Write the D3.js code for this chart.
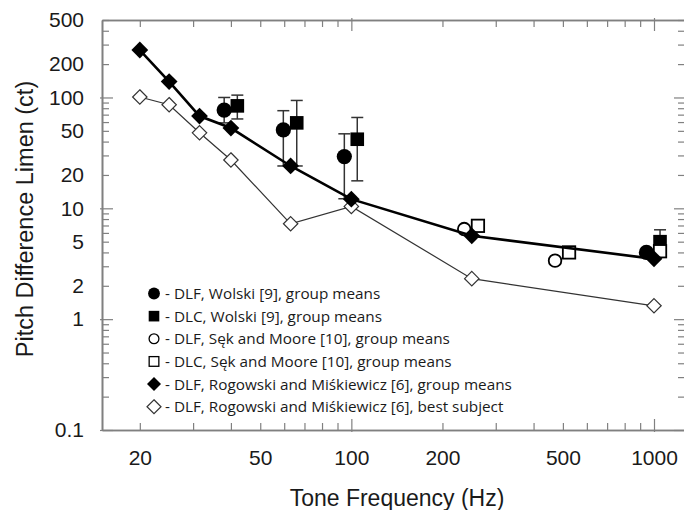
<!DOCTYPE html>
<html>
<head>
<meta charset="utf-8">
<script src="https://cdnjs.cloudflare.com/ajax/libs/d3/7.8.5/d3.min.js"></script>
<style>
  body { margin: 0; background: #ffffff; }
  .axis path, .axis line { stroke: #808080; }
  .axis path { stroke-width: 1.6px; }
  .axis line { stroke-width: 1.2px; }
  .axis text { font-family: "Liberation Sans", Arial, sans-serif; fill: #1a1a1a; }
</style>
</head>
<body>
<div id="chart"></div>
<script>
// ---------------- data ----------------
// Rogowski and Miskiewicz [6], DLF
var freqRogowski = [20, 25, 31.5, 40, 63, 100, 250, 1000];
var dlfRogowskiMeans = [268, 139, 68, 53, 24.1, 12.1, 5.65, 3.5];
var dlfRogowskiBest = [101, 86, 48, 27.3, 7.25, 10.4, 2.32, 1.32];

// Wolski [9] (plotted slightly left / right of the nominal frequency)
var freqWolskiDlf = [38, 59.6, 94.8, 944];
var dlfWolski = [77, 51, 29.3, 4.0];
var dlfWolskiLow = [59, 24.1, 12.2, null];
var dlfWolskiHigh = [100, 76, 47, null];

var freqWolskiDlc = [42, 66, 104.6, 1047];
var dlcWolski = [84, 59, 42, 5.0];
var dlcWolskiLow = [64, 24.1, 17.7, 4.3];
var dlcWolskiHigh = [105, 94, 66, 6.4];

// Sek and Moore [10]
var freqSekDlf = [236, 471];
var dlfSek = [6.5, 3.37];
var freqSekDlc = [262, 524, 1047];
var dlcSek = [6.95, 4.0, 4.1];

// axes
var xTickLabels = [20, 50, 100, 200, 500, 1000];
var yTickLabels = [0.1, 1, 2, 5, 10, 20, 50, 100, 200, 500];
var legendLabels = [
  '- DLF, Wolski [9], group means',
  '- DLC, Wolski [9], group means',
  '- DLF, Sęk and Moore [10], group means',
  '- DLC, Sęk and Moore [10], group means',
  '- DLF, Rogowski and Miśkiewicz [6], group means',
  '- DLF, Rogowski and Miśkiewicz [6], best subject'
];
var legendMarkers = ['circleFilled', 'squareFilled', 'circleOpen', 'squareOpen', 'diamondFilled', 'diamondOpen'];

function renderPitchChart(params) {
  var attrs = {
    svgWidth: 684,
    svgHeight: 510,
    plotLeft: 102,
    plotRight: 685,
    plotTop: 20,
    plotBottom: 430,
    minorTick: 7,
    majorTick: 11,
    legendX: 154,
    legendY: 293.5,
    legendRowHeight: 22.65,
    container: 'body'
  };
  Object.keys(params || {}).forEach(function (k) { attrs[k] = params[k]; });

  var main = function (selection) {
    selection.each(function () {
      var calc = {};
      calc.plotWidth = attrs.plotRight - attrs.plotLeft;
      calc.plotHeight = attrs.plotBottom - attrs.plotTop;

      // ########## scales ##########
      var x = d3.scaleLog().domain([15, 1266]).range([attrs.plotLeft, attrs.plotRight]);
      var y = d3.scaleLog().domain([0.1, 500]).range([attrs.plotBottom, attrs.plotTop]);

      // minor ticks at 2..9 of each decade, major at the decades
      var minorX = [], minorY = [];
      [10, 100].forEach(function (dec) {
        for (var k = 2; k <= 9; k++) { if (x.domain()[0] <= k * dec && k * dec <= x.domain()[1]) minorX.push(k * dec); }
      });
      [0.1, 1, 10, 100].forEach(function (dec) {
        for (var k = 2; k <= 9; k++) { if (k * dec <= y.domain()[1]) minorY.push(k * dec); }
      });
      var majorX = [100, 1000];
      var majorY = [0.1, 1, 10, 100];

      var container = d3.select(this);
      container.html('');

      var svg = container.patternify({ tag: 'svg', selector: 'svg-chart' })
        .attr('width', attrs.svgWidth)
        .attr('height', attrs.svgHeight);
      var chart = svg.patternify({ tag: 'g', selector: 'chart' });

      // ########## axes (mirrored on all four sides) ##########
      function tickAxis(sel, axis, extendOut) {
        sel.call(axis);
        if (extendOut) {
          sel.selectAll('.tick line').each(function () {
            var l = d3.select(this);
            if (l.attr('x2') !== null && +l.attr('x2') !== 0) l.attr('x1', -Math.sign(+l.attr('x2')) * 2);
            if (l.attr('y2') !== null && +l.attr('y2') !== 0) l.attr('y1', -Math.sign(+l.attr('y2')) * 2);
          });
        }
        return sel;
      }

      var bottomG = 'translate(0,' + attrs.plotBottom + ')';
      var topG = 'translate(0,' + attrs.plotTop + ')';
      var leftG = 'translate(' + attrs.plotLeft + ',0)';
      var rightG = 'translate(' + attrs.plotRight + ',0)';

      tickAxis(chart.append('g').attr('class', 'axis').attr('transform', bottomG),
        d3.axisBottom(x).tickValues(minorX).tickSize(-attrs.minorTick).tickSizeOuter(0).tickFormat(''));
      tickAxis(chart.append('g').attr('class', 'axis').attr('transform', bottomG),
        d3.axisBottom(x).tickValues(majorX).tickSize(-attrs.majorTick).tickSizeOuter(0).tickFormat(''), true);
      tickAxis(chart.append('g').attr('class', 'axis').attr('transform', topG),
        d3.axisTop(x).tickValues(minorX).tickSize(-attrs.minorTick).tickSizeOuter(0).tickFormat(''));
      tickAxis(chart.append('g').attr('class', 'axis').attr('transform', topG),
        d3.axisTop(x).tickValues(majorX).tickSize(-attrs.majorTick).tickSizeOuter(0).tickFormat(''), true);

      tickAxis(chart.append('g').attr('class', 'axis').attr('transform', leftG),
        d3.axisLeft(y).tickValues(minorY).tickSize(-attrs.minorTick).tickSizeOuter(0).tickFormat(''));
      tickAxis(chart.append('g').attr('class', 'axis').attr('transform', leftG),
        d3.axisLeft(y).tickValues(majorY).tickSize(-attrs.majorTick).tickSizeOuter(0).tickFormat(''), true);
      tickAxis(chart.append('g').attr('class', 'axis').attr('transform', rightG),
        d3.axisRight(y).tickValues(minorY).tickSize(-attrs.minorTick).tickSizeOuter(0).tickFormat(''));
      tickAxis(chart.append('g').attr('class', 'axis').attr('transform', rightG),
        d3.axisRight(y).tickValues(majorY).tickSize(-attrs.majorTick).tickSizeOuter(0).tickFormat(''), true);

      // tick labels
      var xLab = chart.append('g').attr('class', 'axis').attr('transform', bottomG)
        .call(d3.axisBottom(x).tickValues(xTickLabels).tickSize(0).tickPadding(20).tickFormat(d3.format('d')));
      xLab.select('.domain').remove();
      xLab.selectAll('text').style('font-size', '21px');

      var yLab = chart.append('g').attr('class', 'axis').attr('transform', leftG)
        .call(d3.axisLeft(y).tickValues(yTickLabels).tickSize(0).tickPadding(18).tickFormat(function (d) { return d < 1 ? d3.format('.1f')(d) : d3.format('d')(d); }));
      yLab.select('.domain').remove();
      yLab.selectAll('text').style('font-size', '21px');

      // axis titles
      svg.append('text')
        .attr('x', 397).attr('y', 506)
        .attr('text-anchor', 'middle')
        .style('font-family', '"Liberation Sans", Arial, sans-serif')
        .style('font-size', '23px').style('fill', '#1a1a1a')
        .text('Tone Frequency (Hz)');
      svg.append('text')
        .attr('transform', 'translate(33,219) rotate(-90)')
        .attr('text-anchor', 'middle')
        .style('font-family', '"Liberation Sans", Arial, sans-serif')
        .style('font-size', '23.5px').style('fill', '#1a1a1a')
        .text('Pitch Difference Limen (ct)');

      // ########## marks ##########
      function diamondPath(r) { return 'M0,' + (-r) + 'L' + r + ',0L0,' + r + 'L' + (-r) + ',0Z'; }

      function marker(g, type, px, py, big) {
        var s = big ? 1 : 0.78;
        if (type === 'circleFilled') return g.append('circle').attr('cx', px).attr('cy', py).attr('r', 7.6 * s).attr('fill', '#000');
        if (type === 'circleOpen') return g.append('circle').attr('cx', px).attr('cy', py).attr('r', 6.3 * (big ? 1 : 0.78))
          .attr('fill', '#fff').attr('stroke', '#000').attr('stroke-width', big ? 1.8 : 1.3);
        if (type === 'squareFilled') return g.append('rect').attr('x', px - 6.8 * s).attr('y', py - 6.8 * s)
          .attr('width', 13.6 * s).attr('height', 13.6 * s).attr('fill', '#000');
        if (type === 'squareOpen') return g.append('rect').attr('x', px - 6.2 * s).attr('y', py - 6.2 * s)
          .attr('width', 12.4 * s).attr('height', 12.4 * s)
          .attr('fill', '#fff').attr('stroke', '#000').attr('stroke-width', big ? 1.8 : 1.3);
        if (type === 'diamondFilled') return g.append('path').attr('transform', 'translate(' + px + ',' + py + ')')
          .attr('d', diamondPath(big ? 8.4 : 7)).attr('fill', '#000');
        if (type === 'diamondOpen') return g.append('path').attr('transform', 'translate(' + px + ',' + py + ')')
          .attr('d', diamondPath(big ? 7.2 : 7)).attr('fill', '#fff').attr('stroke', '#333').attr('stroke-width', 1.2);
      }

      function errorBars(g, fx, vals, lo, hi) {
        fx.forEach(function (f, i) {
          if (lo[i] == null || hi[i] == null) return;
          var cx = x(f);
          g.append('line').attr('x1', cx).attr('x2', cx).attr('y1', y(lo[i])).attr('y2', y(hi[i]))
            .attr('stroke', '#333').attr('stroke-width', 1.5);
          [lo[i], hi[i]].forEach(function (v) {
            g.append('line').attr('x1', cx - 6).attr('x2', cx + 6).attr('y1', y(v)).attr('y2', y(v))
              .attr('stroke', '#333').attr('stroke-width', 1.5);
          });
        });
      }

      var marks = chart.patternify({ tag: 'g', selector: 'marks' });
      var line = d3.line().x(function (d) { return x(d[0]); }).y(function (d) { return y(d[1]); });

      // best subject line (thin)
      marks.append('path')
        .datum(d3.zip(freqRogowski, dlfRogowskiBest))
        .attr('d', line).attr('fill', 'none').attr('stroke', '#333').attr('stroke-width', 1.2);

      // Wolski DLC squares
      errorBars(marks, freqWolskiDlc, dlcWolski, dlcWolskiLow, dlcWolskiHigh);
      freqWolskiDlc.forEach(function (f, i) { marker(marks, 'squareFilled', x(f), y(dlcWolski[i]), true); });

      // Sek and Moore
      freqSekDlf.forEach(function (f, i) { marker(marks, 'circleOpen', x(f), y(dlfSek[i]), true); });
      freqSekDlc.forEach(function (f, i) { marker(marks, 'squareOpen', x(f), y(dlcSek[i]), true); });

      // Wolski DLF circles
      errorBars(marks, freqWolskiDlf, dlfWolski, dlfWolskiLow, dlfWolskiHigh);
      freqWolskiDlf.forEach(function (f, i) { marker(marks, 'circleFilled', x(f), y(dlfWolski[i]), true); });

      // best subject diamonds
      freqRogowski.forEach(function (f, i) { marker(marks, 'diamondOpen', x(f), y(dlfRogowskiBest[i]), true); });

      // group means line (thick) + diamonds
      marks.append('path')
        .datum(d3.zip(freqRogowski, dlfRogowskiMeans))
        .attr('d', line).attr('fill', 'none').attr('stroke', '#000').attr('stroke-width', 2.6);
      freqRogowski.forEach(function (f, i) { marker(marks, 'diamondFilled', x(f), y(dlfRogowskiMeans[i]), true); });

      // ########## legend ##########
      var legend = chart.patternify({ tag: 'g', selector: 'legend' });
      legendLabels.forEach(function (lab, i) {
        var ly = attrs.legendY + i * attrs.legendRowHeight;
        marker(legend, legendMarkers[i], attrs.legendX, ly, false);
        legend.append('text')
          .attr('x', attrs.legendX + 11).attr('y', ly).attr('dy', '0.36em')
          .style('font-family', '"Open Sans", sans-serif')
          .style('font-size', '15.3px').style('fill', '#1a1a1a')
          .text(lab);
      });
    });
  };

  //----------- PROTOTYPE FUNCTIONS ----------------------
  d3.selection.prototype.patternify = function (params) {
    var container = this;
    var selector = params.selector;
    var data = params.data || [selector];
    var selection = container.selectAll('.' + selector).data(data);
    selection.exit().remove();
    selection = selection.enter().append(params.tag).merge(selection);
    selection.attr('class', selector);
    return selection;
  };

  main.run = function () {
    d3.selectAll(attrs.container).call(main);
    return main;
  };

  return main;
}

renderPitchChart({ container: '#chart' }).run();
</script>
</body>
</html>
